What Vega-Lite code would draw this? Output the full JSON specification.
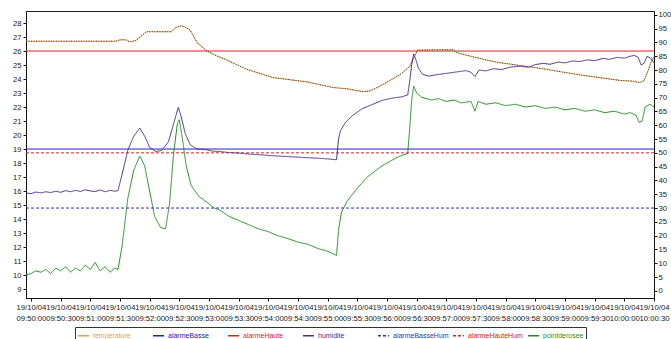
{
  "$schema": "https://vega.github.io/schema/vega-lite/v6.json",
  "width": 628,
  "height": 287,
  "autosize": {"type": "none"},
  "padding": {"left": 26, "top": 11, "right": 17, "bottom": 41},
  "background": "white",
  "config": {
    "font": "Liberation Sans",
    "view": {"stroke": "#222", "strokeWidth": 1},
    "axis": {"domainColor": "#111", "tickColor": "#111", "labelColor": "#222", "labelFontSize": 7.7, "tickSize": 3, "grid": false, "title": null, "labelFont": "Liberation Sans"},
    "legend": {"title": null, "orient": "none", "legendX": 49, "legendY": 316, "direction": "horizontal", "columns": 7, "gridAlign": "all",
      "symbolType": "stroke", "symbolSize": 121, "symbolStrokeWidth": 1.3, "labelFontSize": 7.0, "labelOffset": 3,
      "columnPadding": 1, "strokeColor": "#333", "padding": 2}
  },
  "data": {"values": [
    {"t":"2004-10-19T09:49:55","s":"temperature","v":26.7},
    {"t":"2004-10-19T09:51:26","s":"temperature","v":26.7},
    {"t":"2004-10-19T09:51:30","s":"temperature","v":26.8},
    {"t":"2004-10-19T09:51:36","s":"temperature","v":26.8},
    {"t":"2004-10-19T09:51:40","s":"temperature","v":26.65},
    {"t":"2004-10-19T09:51:46","s":"temperature","v":26.75},
    {"t":"2004-10-19T09:51:52","s":"temperature","v":27.1},
    {"t":"2004-10-19T09:51:57","s":"temperature","v":27.38},
    {"t":"2004-10-19T09:52:22","s":"temperature","v":27.38},
    {"t":"2004-10-19T09:52:26","s":"temperature","v":27.65},
    {"t":"2004-10-19T09:52:31","s":"temperature","v":27.8},
    {"t":"2004-10-19T09:52:35","s":"temperature","v":27.75},
    {"t":"2004-10-19T09:52:41","s":"temperature","v":27.5},
    {"t":"2004-10-19T09:52:48","s":"temperature","v":26.6},
    {"t":"2004-10-19T09:52:58","s":"temperature","v":26.0},
    {"t":"2004-10-19T09:53:08","s":"temperature","v":25.65},
    {"t":"2004-10-19T09:53:18","s":"temperature","v":25.36},
    {"t":"2004-10-19T09:53:38","s":"temperature","v":24.7},
    {"t":"2004-10-19T09:54:05","s":"temperature","v":24.1},
    {"t":"2004-10-19T09:54:22","s":"temperature","v":23.95},
    {"t":"2004-10-19T09:54:39","s":"temperature","v":23.8},
    {"t":"2004-10-19T09:55:05","s":"temperature","v":23.4},
    {"t":"2004-10-19T09:55:20","s":"temperature","v":23.3},
    {"t":"2004-10-19T09:55:36","s":"temperature","v":23.1},
    {"t":"2004-10-19T09:55:43","s":"temperature","v":23.15},
    {"t":"2004-10-19T09:55:53","s":"temperature","v":23.5},
    {"t":"2004-10-19T09:56:03","s":"temperature","v":23.9},
    {"t":"2004-10-19T09:56:13","s":"temperature","v":24.3},
    {"t":"2004-10-19T09:56:23","s":"temperature","v":24.9},
    {"t":"2004-10-19T09:56:27","s":"temperature","v":25.5},
    {"t":"2004-10-19T09:56:31","s":"temperature","v":26.07},
    {"t":"2004-10-19T09:57:07","s":"temperature","v":26.1},
    {"t":"2004-10-19T09:57:10","s":"temperature","v":25.9},
    {"t":"2004-10-19T09:57:29","s":"temperature","v":25.55},
    {"t":"2004-10-19T09:57:51","s":"temperature","v":25.2},
    {"t":"2004-10-19T09:58:11","s":"temperature","v":25.0},
    {"t":"2004-10-19T09:58:32","s":"temperature","v":24.8},
    {"t":"2004-10-19T09:58:53","s":"temperature","v":24.55},
    {"t":"2004-10-19T09:59:15","s":"temperature","v":24.3},
    {"t":"2004-10-19T09:59:35","s":"temperature","v":24.1},
    {"t":"2004-10-19T09:59:56","s":"temperature","v":23.9},
    {"t":"2004-10-19T10:00:08","s":"temperature","v":23.85},
    {"t":"2004-10-19T10:00:16","s":"temperature","v":23.75},
    {"t":"2004-10-19T10:00:20","s":"temperature","v":23.9},
    {"t":"2004-10-19T10:00:24","s":"temperature","v":24.6},
    {"t":"2004-10-19T10:00:27","s":"temperature","v":25.2},
    {"t":"2004-10-19T10:00:30","s":"temperature","v":25.6},

    {"t":"2004-10-19T09:49:55","s":"alarmeBasse","v":19},
    {"t":"2004-10-19T10:00:30","s":"alarmeBasse","v":19},
    {"t":"2004-10-19T09:49:55","s":"alarmeHaute","v":26},
    {"t":"2004-10-19T10:00:30","s":"alarmeHaute","v":26},
    {"t":"2004-10-19T09:49:55","s":"alarmeBasseHum","v":30},
    {"t":"2004-10-19T10:00:30","s":"alarmeBasseHum","v":30},
    {"t":"2004-10-19T09:49:55","s":"alarmeHauteHum","v":50},
    {"t":"2004-10-19T10:00:30","s":"alarmeHauteHum","v":50},

    {"t":"2004-10-19T09:49:55","s":"humidite","v":35.5},
    {"t":"2004-10-19T09:50:00","s":"humidite","v":35.2},
    {"t":"2004-10-19T09:50:05","s":"humidite","v":35.8},
    {"t":"2004-10-19T09:50:10","s":"humidite","v":35.5},
    {"t":"2004-10-19T09:50:15","s":"humidite","v":35.9},
    {"t":"2004-10-19T09:50:20","s":"humidite","v":35.6},
    {"t":"2004-10-19T09:50:25","s":"humidite","v":36.1},
    {"t":"2004-10-19T09:50:30","s":"humidite","v":35.7},
    {"t":"2004-10-19T09:50:35","s":"humidite","v":36.3},
    {"t":"2004-10-19T09:50:40","s":"humidite","v":35.9},
    {"t":"2004-10-19T09:50:45","s":"humidite","v":36.4},
    {"t":"2004-10-19T09:50:50","s":"humidite","v":36.0},
    {"t":"2004-10-19T09:50:55","s":"humidite","v":36.6},
    {"t":"2004-10-19T09:51:00","s":"humidite","v":36.2},
    {"t":"2004-10-19T09:51:05","s":"humidite","v":36.0},
    {"t":"2004-10-19T09:51:10","s":"humidite","v":36.5},
    {"t":"2004-10-19T09:51:15","s":"humidite","v":35.9},
    {"t":"2004-10-19T09:51:20","s":"humidite","v":36.4},
    {"t":"2004-10-19T09:51:25","s":"humidite","v":36.1},
    {"t":"2004-10-19T09:51:28","s":"humidite","v":36.3},
    {"t":"2004-10-19T09:51:32","s":"humidite","v":42},
    {"t":"2004-10-19T09:51:38","s":"humidite","v":51},
    {"t":"2004-10-19T09:51:44","s":"humidite","v":56},
    {"t":"2004-10-19T09:51:50","s":"humidite","v":59},
    {"t":"2004-10-19T09:51:55","s":"humidite","v":56},
    {"t":"2004-10-19T09:52:00","s":"humidite","v":52},
    {"t":"2004-10-19T09:52:06","s":"humidite","v":50.5},
    {"t":"2004-10-19T09:52:12","s":"humidite","v":50.8},
    {"t":"2004-10-19T09:52:19","s":"humidite","v":54},
    {"t":"2004-10-19T09:52:23","s":"humidite","v":59},
    {"t":"2004-10-19T09:52:27","s":"humidite","v":64},
    {"t":"2004-10-19T09:52:29","s":"humidite","v":66.5},
    {"t":"2004-10-19T09:52:32","s":"humidite","v":63},
    {"t":"2004-10-19T09:52:36","s":"humidite","v":57},
    {"t":"2004-10-19T09:52:41","s":"humidite","v":53},
    {"t":"2004-10-19T09:52:47","s":"humidite","v":51.5},
    {"t":"2004-10-19T09:52:56","s":"humidite","v":51.2},
    {"t":"2004-10-19T09:53:04","s":"humidite","v":50.6},
    {"t":"2004-10-19T09:53:11","s":"humidite","v":50.5},
    {"t":"2004-10-19T09:53:20","s":"humidite","v":50.1},
    {"t":"2004-10-19T09:53:31","s":"humidite","v":49.9},
    {"t":"2004-10-19T09:53:42","s":"humidite","v":49.5},
    {"t":"2004-10-19T09:53:52","s":"humidite","v":49.3},
    {"t":"2004-10-19T09:54:02","s":"humidite","v":49.0},
    {"t":"2004-10-19T09:54:12","s":"humidite","v":48.8},
    {"t":"2004-10-19T09:54:22","s":"humidite","v":48.6},
    {"t":"2004-10-19T09:54:32","s":"humidite","v":48.4},
    {"t":"2004-10-19T09:54:42","s":"humidite","v":48.2},
    {"t":"2004-10-19T09:54:52","s":"humidite","v":48.0},
    {"t":"2004-10-19T09:55:00","s":"humidite","v":47.8},
    {"t":"2004-10-19T09:55:09","s":"humidite","v":47.5},
    {"t":"2004-10-19T09:55:11","s":"humidite","v":55},
    {"t":"2004-10-19T09:55:13","s":"humidite","v":58},
    {"t":"2004-10-19T09:55:18","s":"humidite","v":61},
    {"t":"2004-10-19T09:55:25","s":"humidite","v":63.5},
    {"t":"2004-10-19T09:55:35","s":"humidite","v":66},
    {"t":"2004-10-19T09:55:45","s":"humidite","v":67.5},
    {"t":"2004-10-19T09:55:55","s":"humidite","v":69},
    {"t":"2004-10-19T09:56:05","s":"humidite","v":69.8},
    {"t":"2004-10-19T09:56:15","s":"humidite","v":70.3},
    {"t":"2004-10-19T09:56:21","s":"humidite","v":71},
    {"t":"2004-10-19T09:56:23","s":"humidite","v":76},
    {"t":"2004-10-19T09:56:25","s":"humidite","v":82},
    {"t":"2004-10-19T09:56:27","s":"humidite","v":85.8},
    {"t":"2004-10-19T09:56:29","s":"humidite","v":84},
    {"t":"2004-10-19T09:56:32","s":"humidite","v":80.5},
    {"t":"2004-10-19T09:56:36","s":"humidite","v":78.5},
    {"t":"2004-10-19T09:56:42","s":"humidite","v":77.8},
    {"t":"2004-10-19T09:56:50","s":"humidite","v":78.3},
    {"t":"2004-10-19T09:57:00","s":"humidite","v":78.8},
    {"t":"2004-10-19T09:57:10","s":"humidite","v":79.3},
    {"t":"2004-10-19T09:57:20","s":"humidite","v":79.8},
    {"t":"2004-10-19T09:57:25","s":"humidite","v":79.2},
    {"t":"2004-10-19T09:57:29","s":"humidite","v":77.6},
    {"t":"2004-10-19T09:57:33","s":"humidite","v":80},
    {"t":"2004-10-19T09:57:40","s":"humidite","v":79.7},
    {"t":"2004-10-19T09:57:48","s":"humidite","v":80.5},
    {"t":"2004-10-19T09:57:56","s":"humidite","v":80.2},
    {"t":"2004-10-19T09:58:05","s":"humidite","v":81.1},
    {"t":"2004-10-19T09:58:15","s":"humidite","v":81.4},
    {"t":"2004-10-19T09:58:23","s":"humidite","v":81.0},
    {"t":"2004-10-19T09:58:30","s":"humidite","v":82.0},
    {"t":"2004-10-19T09:58:38","s":"humidite","v":82.4},
    {"t":"2004-10-19T09:58:45","s":"humidite","v":82.1},
    {"t":"2004-10-19T09:58:53","s":"humidite","v":82.9},
    {"t":"2004-10-19T09:59:00","s":"humidite","v":82.6},
    {"t":"2004-10-19T09:59:08","s":"humidite","v":83.3},
    {"t":"2004-10-19T09:59:15","s":"humidite","v":83.1},
    {"t":"2004-10-19T09:59:23","s":"humidite","v":83.7},
    {"t":"2004-10-19T09:59:30","s":"humidite","v":83.4},
    {"t":"2004-10-19T09:59:38","s":"humidite","v":84.2},
    {"t":"2004-10-19T09:59:45","s":"humidite","v":83.9},
    {"t":"2004-10-19T09:59:53","s":"humidite","v":84.6},
    {"t":"2004-10-19T10:00:00","s":"humidite","v":84.3},
    {"t":"2004-10-19T10:00:06","s":"humidite","v":85.0},
    {"t":"2004-10-19T10:00:10","s":"humidite","v":85.3},
    {"t":"2004-10-19T10:00:14","s":"humidite","v":84.6},
    {"t":"2004-10-19T10:00:17","s":"humidite","v":81.8},
    {"t":"2004-10-19T10:00:20","s":"humidite","v":82.5},
    {"t":"2004-10-19T10:00:23","s":"humidite","v":85},
    {"t":"2004-10-19T10:00:27","s":"humidite","v":84.2},
    {"t":"2004-10-19T10:00:30","s":"humidite","v":82.5},

    {"t":"2004-10-19T09:49:55","s":"pointderosee","v":10.0},
    {"t":"2004-10-19T09:50:00","s":"pointderosee","v":10.1},
    {"t":"2004-10-19T09:50:05","s":"pointderosee","v":10.3},
    {"t":"2004-10-19T09:50:10","s":"pointderosee","v":10.2},
    {"t":"2004-10-19T09:50:15","s":"pointderosee","v":10.4},
    {"t":"2004-10-19T09:50:20","s":"pointderosee","v":10.1},
    {"t":"2004-10-19T09:50:25","s":"pointderosee","v":10.5},
    {"t":"2004-10-19T09:50:30","s":"pointderosee","v":10.3},
    {"t":"2004-10-19T09:50:35","s":"pointderosee","v":10.6},
    {"t":"2004-10-19T09:50:40","s":"pointderosee","v":10.2},
    {"t":"2004-10-19T09:50:45","s":"pointderosee","v":10.5},
    {"t":"2004-10-19T09:50:50","s":"pointderosee","v":10.3},
    {"t":"2004-10-19T09:50:55","s":"pointderosee","v":10.7},
    {"t":"2004-10-19T09:51:00","s":"pointderosee","v":10.4},
    {"t":"2004-10-19T09:51:05","s":"pointderosee","v":10.9},
    {"t":"2004-10-19T09:51:10","s":"pointderosee","v":10.3},
    {"t":"2004-10-19T09:51:15","s":"pointderosee","v":10.6},
    {"t":"2004-10-19T09:51:20","s":"pointderosee","v":10.2},
    {"t":"2004-10-19T09:51:25","s":"pointderosee","v":10.5},
    {"t":"2004-10-19T09:51:28","s":"pointderosee","v":10.4},
    {"t":"2004-10-19T09:51:32","s":"pointderosee","v":12},
    {"t":"2004-10-19T09:51:38","s":"pointderosee","v":15.5},
    {"t":"2004-10-19T09:51:44","s":"pointderosee","v":17.5},
    {"t":"2004-10-19T09:51:50","s":"pointderosee","v":18.5},
    {"t":"2004-10-19T09:51:55","s":"pointderosee","v":17.8},
    {"t":"2004-10-19T09:52:00","s":"pointderosee","v":16.0},
    {"t":"2004-10-19T09:52:05","s":"pointderosee","v":14.2},
    {"t":"2004-10-19T09:52:11","s":"pointderosee","v":13.4},
    {"t":"2004-10-19T09:52:16","s":"pointderosee","v":13.3},
    {"t":"2004-10-19T09:52:20","s":"pointderosee","v":15},
    {"t":"2004-10-19T09:52:24","s":"pointderosee","v":18.5},
    {"t":"2004-10-19T09:52:28","s":"pointderosee","v":20.8},
    {"t":"2004-10-19T09:52:30","s":"pointderosee","v":21.1},
    {"t":"2004-10-19T09:52:33","s":"pointderosee","v":19.8},
    {"t":"2004-10-19T09:52:37","s":"pointderosee","v":17.8},
    {"t":"2004-10-19T09:52:42","s":"pointderosee","v":16.4},
    {"t":"2004-10-19T09:52:50","s":"pointderosee","v":15.6},
    {"t":"2004-10-19T09:52:58","s":"pointderosee","v":15.2},
    {"t":"2004-10-19T09:53:05","s":"pointderosee","v":14.8},
    {"t":"2004-10-19T09:53:12","s":"pointderosee","v":14.6},
    {"t":"2004-10-19T09:53:20","s":"pointderosee","v":14.2},
    {"t":"2004-10-19T09:53:30","s":"pointderosee","v":13.9},
    {"t":"2004-10-19T09:53:40","s":"pointderosee","v":13.6},
    {"t":"2004-10-19T09:53:50","s":"pointderosee","v":13.3},
    {"t":"2004-10-19T09:54:00","s":"pointderosee","v":13.1},
    {"t":"2004-10-19T09:54:10","s":"pointderosee","v":12.8},
    {"t":"2004-10-19T09:54:20","s":"pointderosee","v":12.6},
    {"t":"2004-10-19T09:54:30","s":"pointderosee","v":12.35},
    {"t":"2004-10-19T09:54:40","s":"pointderosee","v":12.2},
    {"t":"2004-10-19T09:54:50","s":"pointderosee","v":11.9},
    {"t":"2004-10-19T09:55:00","s":"pointderosee","v":11.7},
    {"t":"2004-10-19T09:55:09","s":"pointderosee","v":11.4},
    {"t":"2004-10-19T09:55:11","s":"pointderosee","v":13.2},
    {"t":"2004-10-19T09:55:14","s":"pointderosee","v":14.5},
    {"t":"2004-10-19T09:55:20","s":"pointderosee","v":15.3},
    {"t":"2004-10-19T09:55:30","s":"pointderosee","v":16.2},
    {"t":"2004-10-19T09:55:40","s":"pointderosee","v":17.0},
    {"t":"2004-10-19T09:55:55","s":"pointderosee","v":17.8},
    {"t":"2004-10-19T09:56:10","s":"pointderosee","v":18.4},
    {"t":"2004-10-19T09:56:21","s":"pointderosee","v":18.7},
    {"t":"2004-10-19T09:56:23","s":"pointderosee","v":20.5},
    {"t":"2004-10-19T09:56:25","s":"pointderosee","v":22.5},
    {"t":"2004-10-19T09:56:27","s":"pointderosee","v":23.5},
    {"t":"2004-10-19T09:56:30","s":"pointderosee","v":23.0},
    {"t":"2004-10-19T09:56:35","s":"pointderosee","v":22.7},
    {"t":"2004-10-19T09:56:45","s":"pointderosee","v":22.5},
    {"t":"2004-10-19T09:56:52","s":"pointderosee","v":22.6},
    {"t":"2004-10-19T09:57:00","s":"pointderosee","v":22.4},
    {"t":"2004-10-19T09:57:08","s":"pointderosee","v":22.5},
    {"t":"2004-10-19T09:57:15","s":"pointderosee","v":22.3},
    {"t":"2004-10-19T09:57:25","s":"pointderosee","v":22.4},
    {"t":"2004-10-19T09:57:29","s":"pointderosee","v":21.7},
    {"t":"2004-10-19T09:57:32","s":"pointderosee","v":22.4},
    {"t":"2004-10-19T09:57:40","s":"pointderosee","v":22.2},
    {"t":"2004-10-19T09:57:50","s":"pointderosee","v":22.3},
    {"t":"2004-10-19T09:58:00","s":"pointderosee","v":22.1},
    {"t":"2004-10-19T09:58:10","s":"pointderosee","v":22.2},
    {"t":"2004-10-19T09:58:20","s":"pointderosee","v":22.0},
    {"t":"2004-10-19T09:58:30","s":"pointderosee","v":22.1},
    {"t":"2004-10-19T09:58:40","s":"pointderosee","v":21.9},
    {"t":"2004-10-19T09:58:50","s":"pointderosee","v":22.0},
    {"t":"2004-10-19T09:59:00","s":"pointderosee","v":21.8},
    {"t":"2004-10-19T09:59:10","s":"pointderosee","v":21.9},
    {"t":"2004-10-19T09:59:20","s":"pointderosee","v":21.7},
    {"t":"2004-10-19T09:59:30","s":"pointderosee","v":21.8},
    {"t":"2004-10-19T09:59:40","s":"pointderosee","v":21.6},
    {"t":"2004-10-19T09:59:50","s":"pointderosee","v":21.7},
    {"t":"2004-10-19T10:00:00","s":"pointderosee","v":21.5},
    {"t":"2004-10-19T10:00:06","s":"pointderosee","v":21.6},
    {"t":"2004-10-19T10:00:12","s":"pointderosee","v":21.4},
    {"t":"2004-10-19T10:00:15","s":"pointderosee","v":20.9},
    {"t":"2004-10-19T10:00:18","s":"pointderosee","v":21.0},
    {"t":"2004-10-19T10:00:21","s":"pointderosee","v":22.0},
    {"t":"2004-10-19T10:00:26","s":"pointderosee","v":22.2},
    {"t":"2004-10-19T10:00:30","s":"pointderosee","v":22.0}
  ]},
  "encoding": {
    "x": {
      "field": "t", "type": "temporal",
      "scale": {"domain": [
        {"year": 2004, "month": 10, "date": 19, "hours": 9, "minutes": 49, "seconds": 55},
        {"year": 2004, "month": 10, "date": 19, "hours": 10, "minutes": 0, "seconds": 30}
      ]},
      "axis": {
        "values": [
          {"year": 2004, "month": 10, "date": 19, "hours": 9, "minutes": 50, "seconds": 0},
          {"year": 2004, "month": 10, "date": 19, "hours": 9, "minutes": 50, "seconds": 30},
          {"year": 2004, "month": 10, "date": 19, "hours": 9, "minutes": 51, "seconds": 0},
          {"year": 2004, "month": 10, "date": 19, "hours": 9, "minutes": 51, "seconds": 30},
          {"year": 2004, "month": 10, "date": 19, "hours": 9, "minutes": 52, "seconds": 0},
          {"year": 2004, "month": 10, "date": 19, "hours": 9, "minutes": 52, "seconds": 30},
          {"year": 2004, "month": 10, "date": 19, "hours": 9, "minutes": 53, "seconds": 0},
          {"year": 2004, "month": 10, "date": 19, "hours": 9, "minutes": 53, "seconds": 30},
          {"year": 2004, "month": 10, "date": 19, "hours": 9, "minutes": 54, "seconds": 0},
          {"year": 2004, "month": 10, "date": 19, "hours": 9, "minutes": 54, "seconds": 30},
          {"year": 2004, "month": 10, "date": 19, "hours": 9, "minutes": 55, "seconds": 0},
          {"year": 2004, "month": 10, "date": 19, "hours": 9, "minutes": 55, "seconds": 30},
          {"year": 2004, "month": 10, "date": 19, "hours": 9, "minutes": 56, "seconds": 0},
          {"year": 2004, "month": 10, "date": 19, "hours": 9, "minutes": 56, "seconds": 30},
          {"year": 2004, "month": 10, "date": 19, "hours": 9, "minutes": 57, "seconds": 0},
          {"year": 2004, "month": 10, "date": 19, "hours": 9, "minutes": 57, "seconds": 30},
          {"year": 2004, "month": 10, "date": 19, "hours": 9, "minutes": 58, "seconds": 0},
          {"year": 2004, "month": 10, "date": 19, "hours": 9, "minutes": 58, "seconds": 30},
          {"year": 2004, "month": 10, "date": 19, "hours": 9, "minutes": 59, "seconds": 0},
          {"year": 2004, "month": 10, "date": 19, "hours": 9, "minutes": 59, "seconds": 30},
          {"year": 2004, "month": 10, "date": 19, "hours": 10, "minutes": 0, "seconds": 0},
          {"year": 2004, "month": 10, "date": 19, "hours": 10, "minutes": 0, "seconds": 30}
        ],
        "labelExpr": "[timeFormat(datum.value, '%d/%m/%y'), timeFormat(datum.value, '%H:%M:%S')]",
        "labelOverlap": false, "labelFlush": false, "labelPadding": 2, "labelLineHeight": 11
      }
    }
  },
  "layer": [
    {
      "encoding": {
        "y": {"field": "v", "type": "quantitative",
          "scale": {"domain": [8.36, 28.86], "nice": false, "zero": false},
          "axis": {"orient": "left", "values": [9,10,11,12,13,14,15,16,17,18,19,20,21,22,23,24,25,26,27,28], "labelPadding": 2}}
      },
      "layer": [
        {
          "transform": [{"filter": {"field": "s", "oneOf": ["temperature", "alarmeBasse", "alarmeHaute", "pointderosee"]}}],
          "mark": {"type": "line", "strokeWidth": 1},
          "encoding": {
            "color": {"field": "s", "type": "nominal",
              "scale": {"domain": ["temperature","alarmeBasse","alarmeHaute","humidite","alarmeBasseHum","alarmeHauteHum","pointderosee"],
                        "range": ["#f0a040","#2020c8","#e02020","#4b2f8a","#3030c8","#d82020","#1f8f1f"]},
              "legend": {"labelColor": {"expr": "scale('color', datum.value)"}}},
            "strokeDash": {"field": "s", "type": "nominal",
              "scale": {"domain": ["temperature","alarmeBasse","alarmeHaute","humidite","alarmeBasseHum","alarmeHauteHum","pointderosee"],
                        "range": [[1,0],[1,0],[1,0],[1,0],[3,2],[3,2],[1,0]]},
              "legend": {"labelColor": {"expr": "scale('color', datum.value)"}}}
          }
        },
        {
          "transform": [{"filter": {"field": "s", "equal": "temperature"}}],
          "mark": {"type": "line", "strokeWidth": 1, "color": "#4a3a28", "strokeDash": [1, 1.5]},
          "encoding": {}
        }
      ]
    },
    {
      "transform": [{"filter": {"field": "s", "oneOf": ["humidite", "alarmeBasseHum", "alarmeHauteHum"]}}],
      "mark": {"type": "line", "strokeWidth": 1},
      "encoding": {
        "y": {"field": "v", "type": "quantitative",
          "scale": {"domain": [-2.6, 101.4], "nice": false, "zero": false},
          "axis": {"orient": "right", "values": [0,5,10,15,20,25,30,35,40,45,50,55,60,65,70,75,80,85,90,95,100], "labelPadding": 1}},
        "color": {"field": "s", "type": "nominal", "legend": {"labelColor": {"expr": "scale('color', datum.value)"}}},
        "strokeDash": {"field": "s", "type": "nominal", "legend": {"labelColor": {"expr": "scale('color', datum.value)"}}}
      }
    }
  ],
  "resolve": {"scale": {"y": "independent"}, "axis": {"y": "independent"}}
}
